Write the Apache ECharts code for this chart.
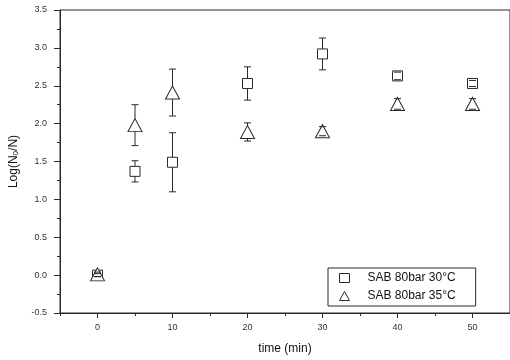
<!DOCTYPE html>
<html>
<head>
<meta charset="utf-8">
<script src="https://cdn.jsdelivr.net/npm/echarts@6/dist/echarts.min.js"></script>
<style>
  html, body { margin: 0; padding: 0; background: #fff; }
  #chart { width: 510px; height: 360px; }
</style>
</head>
<body>
<div id="chart"></div>
<script>
// Sampling times (min)
const times = [0, 5, 10, 20, 30, 40, 50];

// Log reduction, SAB 80 bar at 30 °C, with standard deviations
const sab30 = [0.00, 1.37, 1.49, 2.53, 2.92, 2.63, 2.53];
const sab30Err = [0.02, 0.14, 0.39, 0.22, 0.21, 0.05, 0.04];

// Log reduction, SAB 80 bar at 35 °C, with standard deviations
const sab35 = [0.01, 1.98, 2.41, 1.89, 1.90, 2.26, 2.26];
const sab35Err = [0.03, 0.27, 0.31, 0.12, 0.06, 0.07, 0.07];

const seriesNames = ['SAB 80bar 30°C', 'SAB 80bar 35°C'];
const xLabelValues = [0, 10, 20, 30, 40, 50];
const xMinorValues = [-5, 5, 15, 25, 35, 45, 55];

const FONT = 'Liberation Sans, Arial, sans-serif';
const INK = '#2a2a2a';

function points(vals) {
  return times.map((t, i) => [t, vals[i]]);
}
function errRows(vals, errs) {
  return times.map((t, i) => [t, vals[i], vals[i] - errs[i], vals[i] + errs[i]]);
}

// Error bar: stems stop at the marker edge, caps drawn on top
function errorBar(halfMark) {
  return function (params, api) {
    const x = api.value(0);
    const c = api.coord([x, api.value(1)]);
    const lo = api.coord([x, api.value(2)]);
    const hi = api.coord([x, api.value(3)]);
    const cap = 3.5;
    const style = { stroke: INK, lineWidth: 1 };
    const kids = [];
    if (hi[1] < c[1] - halfMark) {
      kids.push({ type: 'line', shape: { x1: c[0], y1: hi[1], x2: c[0], y2: c[1] - halfMark }, style });
    }
    if (lo[1] > c[1] + halfMark) {
      kids.push({ type: 'line', shape: { x1: c[0], y1: c[1] + halfMark, x2: c[0], y2: lo[1] }, style });
    }
    kids.push({ type: 'line', shape: { x1: c[0] - cap, y1: hi[1], x2: c[0] + cap, y2: hi[1] }, style });
    kids.push({ type: 'line', shape: { x1: c[0] - cap, y1: lo[1], x2: c[0] + cap, y2: lo[1] }, style });
    return { type: 'group', children: kids };
  };
}

const chart = echarts.init(document.getElementById('chart'), null, { renderer: 'canvas' });

chart.setOption({
  animation: false,
  backgroundColor: '#fff',
  textStyle: { fontFamily: FONT },
  grid: {
    left: 58, top: 10, right: -4, bottom: 46,
    show: true, borderColor: INK, borderWidth: 1, backgroundColor: 'transparent'
  },
  legend: {
    data: [
      { name: seriesNames[0], itemStyle: { color: '#fff', borderColor: INK, borderWidth: 1 } },
      { name: seriesNames[1], itemStyle: { color: '#fff', borderColor: INK, borderWidth: 1 } }
    ],
    orient: 'vertical',
    left: 328, top: 268,
    padding: [4, 20, 4, 11],
    itemGap: 6,
    itemWidth: 10, itemHeight: 9,
    itemStyle: { color: '#fff', borderColor: INK, borderWidth: 1 },
    borderColor: INK, borderWidth: 1,
    backgroundColor: '#fff',
    textStyle: { fontFamily: FONT, fontSize: 12, color: '#111', padding: [0, 0, 0, 13] }
  },
  xAxis: [{
    type: 'value', min: -5, max: 55,
    name: 'time (min)', nameLocation: 'middle', nameGap: 30,
    nameTextStyle: { fontFamily: FONT, fontSize: 12, color: '#111' },
    axisLine: { show: true, onZero: false, lineStyle: { color: INK } },
    axisTick: { show: true, length: 5, customValues: xLabelValues, lineStyle: { color: INK } },
    axisLabel: { customValues: xLabelValues, fontSize: 9, color: '#333', margin: 10, fontFamily: FONT },
    splitLine: { show: false }
  }, {
    type: 'value', min: -5, max: 55, position: 'bottom',
    axisLine: { show: false, onZero: false },
    axisTick: { show: true, length: 3, customValues: xMinorValues, lineStyle: { color: INK } },
    axisLabel: { show: false },
    splitLine: { show: false }
  }],
  yAxis: {
    type: 'value', min: -0.5, max: 3.5, interval: 0.5,
    name: 'Log(N{sub|0}/N)', nameLocation: 'middle', nameGap: 40, nameRotate: 90,
    nameTextStyle: {
      fontFamily: FONT, fontSize: 12, color: '#111',
      rich: { sub: { fontFamily: FONT, fontSize: 8, color: '#111', verticalAlign: 'bottom', padding: [4, 0, 0, 0] } }
    },
    axisLine: { show: true, onZero: false, lineStyle: { color: INK } },
    axisTick: { show: true, length: 6, lineStyle: { color: INK } },
    minorTick: { show: true, splitNumber: 2, length: 3, lineStyle: { color: INK } },
    axisLabel: { fontSize: 9, color: '#333', margin: 13, fontFamily: FONT, formatter: v => v.toFixed(1) },
    splitLine: { show: false }
  },
  series: [
    {
      type: 'custom', name: 'err30', xAxisIndex: 0, z: 3,
      renderItem: errorBar(5),
      data: errRows(sab30, sab30Err), silent: true
    },
    {
      type: 'custom', name: 'err35', xAxisIndex: 0, z: 3,
      renderItem: errorBar(6.5),
      data: errRows(sab35, sab35Err), silent: true
    },
    {
      type: 'scatter', name: seriesNames[0], xAxisIndex: 0, z: 2,
      symbol: 'rect', symbolSize: 10,
      itemStyle: { color: '#fff', borderColor: INK, borderWidth: 1, opacity: 1 },
      data: points(sab30)
    },
    {
      type: 'scatter', name: seriesNames[1], xAxisIndex: 0, z: 2,
      symbol: 'triangle', symbolSize: [14, 13],
      itemStyle: { color: '#fff', borderColor: INK, borderWidth: 1, opacity: 1 },
      data: points(sab35)
    }
  ]
});
</script>
</body>
</html>
